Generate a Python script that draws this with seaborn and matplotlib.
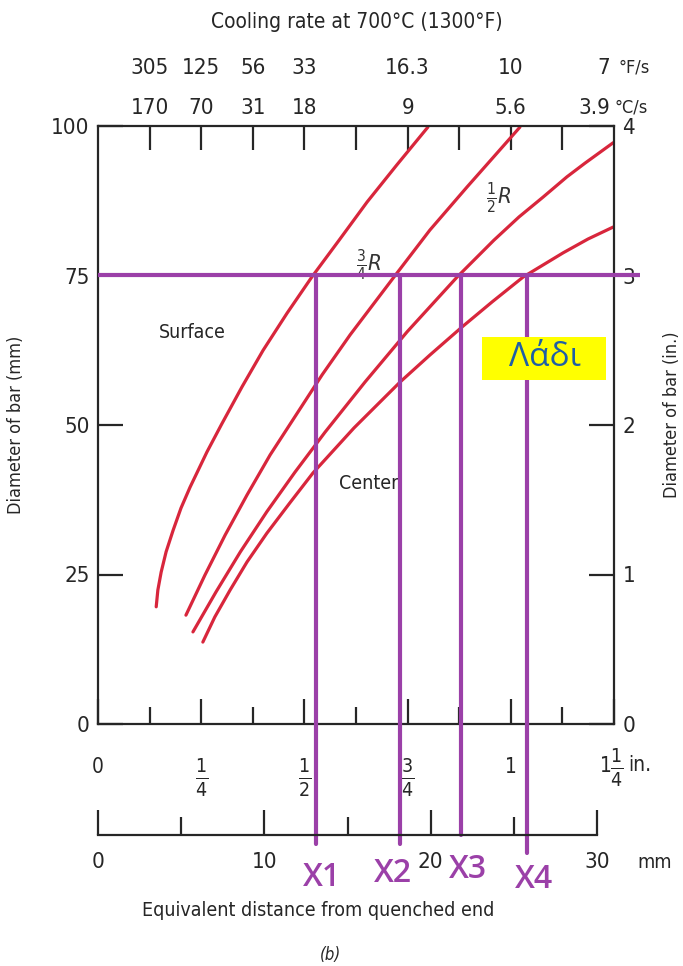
import matplotlib
matplotlib.use("Agg")
import matplotlib.pyplot as plt
import matplotlib.patches as mpatches
import pandas as pd
import seaborn as sns

# ---------------- data ----------------
# x: equivalent distance (in.), y: bar diameter (mm)
surface_x = [0.141, 0.145, 0.153, 0.165, 0.182, 0.201, 0.223, 0.264, 0.300, 0.349,
             0.400, 0.458, 0.518, 0.584, 0.652, 0.724, 0.799]
surface_y = [19.6, 22.4, 25.4, 28.8, 32.4, 36.1, 39.6, 45.5, 50.2, 56.4,
             62.5, 68.7, 74.75, 80.9, 87.3, 93.5, 99.8]

r34_x = [0.213, 0.259, 0.308, 0.361, 0.417, 0.480, 0.543, 0.611, 0.717, 0.804, 0.894, 0.967, 1.022]
r34_y = [18.2, 24.9, 31.6, 38.3, 45.0, 51.7, 58.4, 65.1, 74.75, 82.6, 89.8, 95.5, 99.8]

r12_x = [0.230, 0.286, 0.345, 0.409, 0.477, 0.550, 0.647, 0.749, 0.870, 0.959, 1.020,
         1.078, 1.136, 1.180, 1.248]
r12_y = [15.4, 22.1, 28.8, 35.5, 42.1, 48.8, 57.2, 65.6, 74.75, 80.9, 84.8,
         88.1, 91.5, 93.8, 97.2]

center_x = [0.254, 0.283, 0.320, 0.361, 0.409, 0.465, 0.521, 0.620, 0.732, 0.804,
            0.882, 0.955, 1.030, 1.127, 1.187, 1.248]
center_y = [13.7, 17.9, 22.4, 27.1, 31.9, 37.0, 42.0, 49.5, 57.2, 61.7,
            66.4, 70.6, 74.75, 78.8, 81.1, 83.1]

curve_names = ["Surface", "3/4 R", "1/2 R", "Center"]

# axis ticks / labels
left_ticks = [0, 25, 50, 75, 100]
right_ticks = [0, 1, 2, 3, 4]
inch_ticks = [0, 0.25, 0.5, 0.75, 1.0, 1.25]
inch_labels = ["0", r"$\frac{1}{4}$", r"$\frac{1}{2}$", r"$\frac{3}{4}$", "1", ""]
inch_last_whole, inch_last_frac = "1", r"$\frac{1}{4}$"
inch_minor = [0.125, 0.375, 0.625, 0.875, 1.125]
mm_ticks = [0, 10, 20, 30]
mm_minor = [5, 15, 25]
top_ticks = [0.125, 0.25, 0.375, 0.5, 0.625, 0.75, 0.875, 1.0, 1.125]
rate_pos = [0.125, 0.25, 0.375, 0.5, 0.75, 1.0, 1.25]
rate_F = ["305", "125", "56", "33", "16.3", "10", "7"]
rate_C = ["170", "70", "31", "18", "9", "5.6", "3.9"]

# selected marks (purple construction lines)
target_diam = 75
mark_x = [0.528, 0.732, 0.879, 1.039]
mark_names = ["X1", "X2", "X3", "X4"]
mark_bottom = [-20.0, -20.0, -18.5, -21.5]

# ---------------- style ----------------
sns.set_theme(style="white")
plt.rcParams['font.family'] = ['DejaVu Sans Condensed', 'DejaVu Sans']
plt.rcParams['font.stretch'] = 'condensed'
plt.rcParams['mathtext.fontset'] = 'dejavusans'

RED = "#d8263c"
PURPLE = "#9b40a8"
INK = "#262626"
WIDE = ["Open Sans", "Noto Sans", "DejaVu Sans"]

W, H = 683, 966
fig = plt.figure(figsize=(W / 100, H / 100), dpi=100)
fig.patch.set_facecolor("white")

def fx(px):
    return px / W

def fy(py):
    return 1 - py / H

ax = fig.add_axes([fx(98), fy(724), fx(614) - fx(98), fy(126) - fy(724)])
ax.set_facecolor("white")

frames = []
for name, xs, ys in zip(curve_names,
                        [surface_x, r34_x, r12_x, center_x],
                        [surface_y, r34_y, r12_y, center_y]):
    frames.append(pd.DataFrame({"x": xs, "y": ys, "curve": name}))
df = pd.concat(frames, ignore_index=True)

sns.lineplot(data=df, x="x", y="y", hue="curve", palette=[RED] * 4,
             legend=False, estimator=None, linewidth=2.3, ax=ax)

ax.set_xlim(0, 1.25)
ax.set_ylim(0, 100)
for s in ax.spines.values():
    s.set_color(INK)
    s.set_linewidth(1.6)
    s.set_visible(True)

# bottom inch scale
ax.set_xticks(inch_ticks)
ax.set_xticklabels(inch_labels)
ax.set_xticks(inch_minor, minor=True)
ax.tick_params(axis="x", which="major", direction="in", length=18, width=1.6,
               color=INK, bottom=True, top=False, pad=24, labelsize=15, labelcolor=INK)
ax.tick_params(axis="x", which="minor", direction="in", length=12, width=1.6,
               color=INK, bottom=True, top=False)
for lbl in ax.get_xticklabels():
    if "frac" in lbl.get_text():
        lbl.set_fontsize(20)
ax.set_xlabel("")
# last inch label "1 1/4 in."
fig.text(fx(606), fy(766), inch_last_whole, ha="center", va="center", fontsize=15, color=INK)
fig.text(fx(617), fy(768), inch_last_frac, ha="center", va="center", fontsize=20, color=INK)
fig.text(fx(628), fy(765), "in.", ha="left", va="center", fontsize=15, color=INK)

# left mm scale
ax.set_yticks(left_ticks)
ax.set_yticklabels([str(t) for t in left_ticks])
ax.tick_params(axis="y", which="major", direction="in", length=18, width=1.6,
               color=INK, left=True, right=False, pad=6, labelsize=16, labelcolor=INK)
ax.set_ylabel("Diameter of bar (mm)", fontsize=13, color=INK)
ax.yaxis.set_label_coords(-0.142, 0.5)

# top ticks (cooling rate positions)
topax = ax.secondary_xaxis("top")
topax.set_xticks(top_ticks)
topax.set_xticklabels([])
topax.tick_params(axis="x", direction="in", length=17, width=1.6, color=INK, top=True)
topax.spines["top"].set_visible(False)

# right inch scale
rax = ax.secondary_yaxis("right", functions=(lambda v: v / 25.0, lambda v: v * 25.0))
rax.set_yticks(right_ticks)
rax.set_yticklabels([str(t) for t in right_ticks])
rax.tick_params(axis="y", direction="in", length=18, width=1.6, color=INK, right=True,
                pad=6, labelsize=16, labelcolor=INK)
rax.spines["right"].set_visible(False)
fig.text(fx(672), fy(415), "Diameter of bar (in.)", rotation=90, ha="center",
         va="center", fontsize=13, color=INK)

# cooling-rate labels
xt = ax.get_xaxis_transform()
for p, f, c in zip(rate_pos, rate_F, rate_C):
    last = p == rate_pos[-1]
    px = p - 0.01 if last else p
    ha = "right" if last else "center"
    ax.text(px, 1.0 + 58 / 598, f, transform=xt, ha=ha, va="center",
            fontsize=16, color=INK, clip_on=False)
    ax.text(px, 1.0 + 18 / 598, c, transform=xt, ha=ha, va="center",
            fontsize=16, color=INK, clip_on=False)
fig.text(fx(619), fy(68), "°F/s", ha="left", va="center", fontsize=13, color=INK)
fig.text(fx(614), fy(108), "°C/s", ha="left", va="center", fontsize=13, color=INK)
fig.text(fx(357), fy(22), "Cooling rate at 700°C (1300°F)", ha="center", va="center",
         fontsize=15, color=INK)

# curve labels
ax.text(0.228, 65.5, "Surface", fontsize=14, color=INK, ha="center", va="center")
ax.text(0.655, 40.3, "Center", fontsize=14, color=INK, ha="center", va="center")
ax.text(0.655, 76.8, r"$\frac{3}{4}R$", fontsize=16, color="#333333", ha="center", va="center")
ax.text(0.97, 88.0, r"$\frac{1}{2}R$", fontsize=16, color="#333333", ha="center", va="center")

# mm scale axis
mmax = fig.add_axes([fx(98), fy(835), fx(597) - fx(98), 0.02])
mmax.patch.set_visible(False)
mmax.set_xlim(0, 30)
mmax.set_ylim(0, 1)
for k in ["top", "left", "right"]:
    mmax.spines[k].set_visible(False)
mmax.spines["bottom"].set_color(INK)
mmax.spines["bottom"].set_linewidth(1.6)
mmax.set_yticks([])
mmax.set_xticks(mm_ticks)
mmax.set_xticklabels([str(t) for t in mm_ticks])
mmax.set_xticks(mm_minor, minor=True)
mmax.tick_params(axis="x", which="major", direction="in", length=18, width=1.6,
                 color=INK, bottom=True, pad=12, labelsize=16, labelcolor=INK)
mmax.tick_params(axis="x", which="minor", direction="in", length=13, width=1.6,
                 color=INK, bottom=True)
fig.text(fx(655), fy(862), "mm", ha="center", va="center", fontsize=14, color=INK)

fig.text(fx(318), fy(911), "Equivalent distance from quenched end", ha="center",
         va="center", fontsize=14, color=INK)
fig.text(fx(330), fy(955), "(b)", ha="center", va="center", fontsize=12,
         color=INK, style="italic")

# purple construction lines
ax.plot([0, 1.313], [target_diam, target_diam], color=PURPLE, lw=3.0,
        clip_on=False, zorder=5, solid_capstyle="butt")
for xm, yb in zip(mark_x, mark_bottom):
    ax.plot([xm, xm], [target_diam, yb], color=PURPLE, lw=3.0, clip_on=False,
            zorder=5, solid_capstyle="round")
label_y = [878, 874, 870, 880]
label_px = [322, 393, 468, 534]
for name, lx, ly in zip(mark_names, label_px, label_y):
    fig.text(fx(lx), fy(ly), name, ha="center", va="center", fontsize=23,
             color=PURPLE, weight="semibold", stretch="normal", family=WIDE)

# yellow box
fig.patches.append(mpatches.Rectangle((fx(482), fy(380)), fx(606) - fx(482),
                                      fy(337) - fy(380), transform=fig.transFigure,
                                      facecolor="#ffff00", edgecolor="none", zorder=6))
fig.text(fx(545), fy(357), "Λάδι", ha="center", va="center", fontsize=24,
         color="#1f5fa6", stretch="normal", weight="normal", family=WIDE, zorder=7)

fig.savefig("out.png", dpi=100)
